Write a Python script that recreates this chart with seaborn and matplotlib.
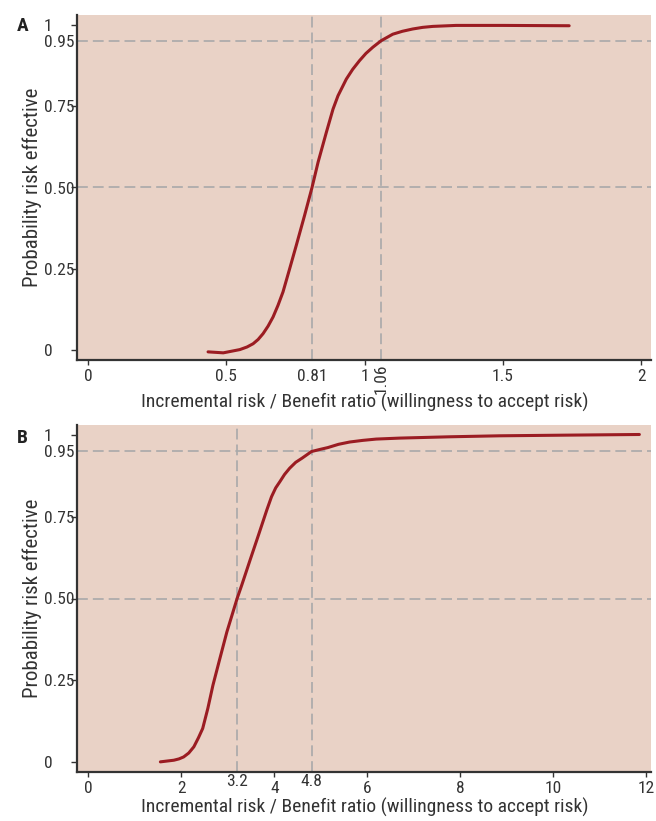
import numpy as np
import pandas as pd
import seaborn as sns
import matplotlib.pyplot as plt
from matplotlib import font_manager

# panel A: ratio vs probability that the risk is acceptable
ratio_a = [0.434, 0.489, 0.549, 0.575, 0.597, 0.615, 0.633, 0.651, 0.669, 0.687,
           0.705, 0.729, 0.753, 0.783, 0.81, 0.832, 0.862, 0.886, 0.904, 0.934,
           0.957, 0.982, 1.005, 1.030, 1.060, 1.102, 1.137, 1.174, 1.21, 1.247,
           1.331, 1.500, 1.740]
prob_a = [-0.005, -0.008, 0.002, 0.01, 0.02, 0.033, 0.051, 0.074, 0.102, 0.138,
          0.179, 0.25, 0.322, 0.414, 0.5, 0.578, 0.67, 0.741, 0.782, 0.833,
          0.863, 0.89, 0.912, 0.931, 0.951, 0.971, 0.980, 0.987, 0.992, 0.995,
          0.998, 0.998, 0.997]

# panel B
ratio_b = [1.55, 1.84, 1.95, 2.05, 2.16, 2.27, 2.37, 2.46, 2.57, 2.68, 2.83, 2.98,
           3.2, 3.3, 3.48, 3.66, 3.84, 3.94, 4.03, 4.12, 4.22, 4.33, 4.46, 4.6,
           4.8, 4.97, 5.15, 5.38, 5.62, 5.9, 6.19, 6.70, 7.77, 8.84, 10.27, 11.85]
prob_b = [0.001, 0.006, 0.010, 0.016, 0.028, 0.047, 0.075, 0.103, 0.164, 0.235,
          0.317, 0.398, 0.5, 0.541, 0.618, 0.694, 0.771, 0.811, 0.838, 0.857,
          0.879, 0.898, 0.916, 0.929, 0.949, 0.955, 0.961, 0.971, 0.978, 0.983,
          0.987, 0.99, 0.994, 0.997, 0.999, 1.001]

yticks = [0, 0.25, 0.5, 0.75, 1]
ytick_labels = ['0', '0.25', '0.50', '0.75', '1']

xticks_a = [0, 0.5, 1, 1.5, 2]
xticks_b = [0, 2, 4, 6, 8, 10, 12]
marks_a = [0.81, 1.06]
marks_b = [3.2, 4.8]
hlines = [0.5, 0.95]

BG = '#E9D2C6'
RED = '#9B1C22'
GRID = '#A9A9AA'
DARK = '#333333'

sns.set_style('white', {'axes.facecolor': BG})

# pick a narrow face if one is around, otherwise Liberation Sans
fonts = font_manager.fontManager.ttflist
names = {f.name for f in fonts}
narrow = None
for cand in ['Liberation Sans Narrow', 'Roboto Condensed', 'Open Sans Condensed']:
    if cand in names:
        narrow = cand
        break
if narrow is None and any(f.name == 'DejaVu Sans' and f.stretch == 'condensed' for f in fonts):
    narrow = 'DejaVu Sans'
    plt.rcParams['font.stretch'] = 'condensed'
if narrow is None:
    narrow = 'Liberation Sans'
plt.rcParams['font.family'] = [narrow, 'DejaVu Sans']

TICK_FS = 12.5
LABEL_FS = 14


def draw_panel(ax, x, y, xlim, xticks, marks, letter, letter_y, xlab_y):
    df = pd.DataFrame({'ratio': x, 'prob': y})
    for v in marks:
        ax.axvline(v, color=GRID, lw=1.2, dashes=(6.5, 3), zorder=1)
    for h in hlines:
        ax.axhline(h, color=GRID, lw=1.2, dashes=(6.5, 3), zorder=1)
    sns.lineplot(data=df, x='ratio', y='prob', ax=ax, color=RED, lw=2.2,
                 sort=False, estimator=None, zorder=3)

    ax.set_xlim(*xlim)
    ax.set_ylim(-0.03, 1.03)

    ax.set_xticks(xticks, labels=[f'{t:g}' for t in xticks])
    ax.set_xticks(marks, labels=[f'{m:g}' for m in marks], minor=True)
    ax.set_yticks(yticks, labels=ytick_labels)
    ax.set_yticks([0.95], labels=['0.95'], minor=True)

    ax.tick_params(axis='x', which='major', bottom=True, length=3.5, width=1,
                   color=DARK, pad=3.2, labelsize=TICK_FS, labelcolor=DARK)
    ax.tick_params(axis='y', which='major', left=True, length=4.3, width=1,
                   color=DARK, pad=19.5, labelsize=TICK_FS, labelcolor=DARK)
    ax.tick_params(axis='y', which='minor', left=True, length=0, pad=23.8,
                   labelsize=TICK_FS, labelcolor=DARK)
    for lbl in ax.get_yticklabels(which='both'):
        lbl.set_horizontalalignment('left')

    for side in ['top', 'right']:
        ax.spines[side].set_visible(False)
    for side in ['left', 'bottom']:
        ax.spines[side].set_color(DARK)
        ax.spines[side].set_linewidth(1.6)

    ax.set_xlabel('Incremental risk / Benefit ratio (willingness to accept risk)',
                  fontsize=LABEL_FS, color=DARK)
    ax.set_ylabel('Probability risk effective', fontsize=15, color=DARK)
    ax.xaxis.set_label_coords(0.502, xlab_y)
    ax.yaxis.set_label_coords(-0.061, 0.5)
    ax.figure.text(17 / 656, letter_y, letter, ha='left', va='top',
                   fontsize=14, fontweight='bold', color='#222222')


fig = plt.figure(figsize=(6.56, 8.21), dpi=100)
ax_a = fig.add_axes([77 / 656, 1 - 360 / 821, 574 / 656, 345 / 821])
ax_b = fig.add_axes([77 / 656, 1 - 772 / 821, 574 / 656, 347 / 821])

draw_panel(ax_a, ratio_a, prob_a, (-0.04, 2.036), xticks_a, marks_a, 'A',
           1 - 17 / 821, -0.095)
# 0.81 sits level with the other labels, 1.06 is turned on its side
ax_a.tick_params(axis='x', which='minor', bottom=True, length=0, pad=6.6,
                 labelsize=TICK_FS, labelcolor=DARK)
ax_a.xaxis.get_minor_ticks()[1].set_pad(2.2)
ax_a.get_xticklabels(minor=True)[1].set_rotation(90)

draw_panel(ax_b, ratio_b, prob_b, (-0.243, 12.1), xticks_b, marks_b, 'B',
           1 - 429 / 821, -0.073)
ax_b.tick_params(axis='x', which='minor', bottom=True, length=0, pad=1.5,
                 labelsize=TICK_FS, labelcolor=DARK)

fig.savefig('out.png', dpi=100, facecolor='white')
